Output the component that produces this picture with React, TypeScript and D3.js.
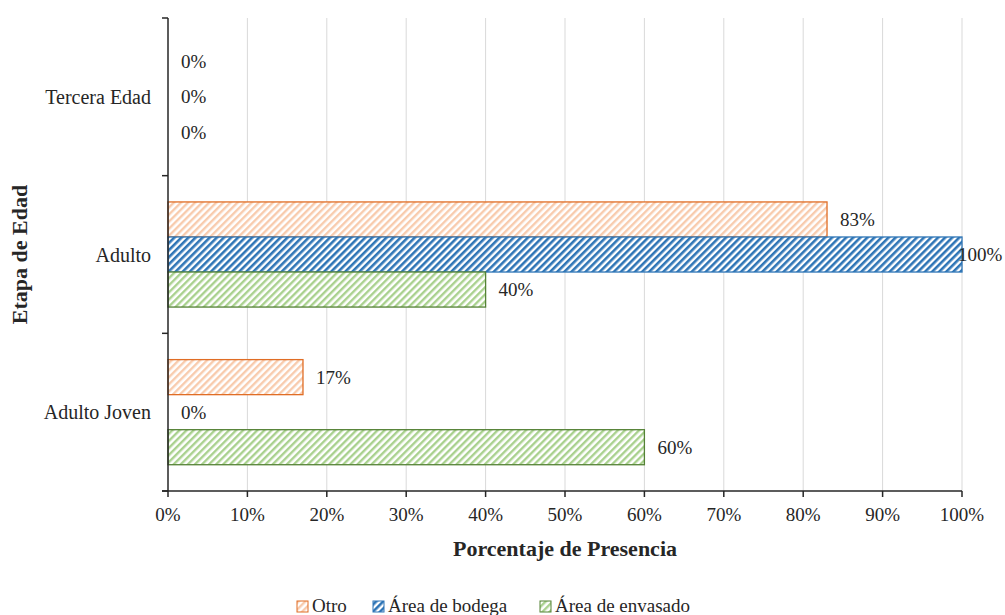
import React from "react";
import * as d3 from "d3";

const categories = ["Tercera Edad", "Adulto", "Adulto Joven"];
const seriesNames = ["Otro", "Área de bodega", "Área de envasado"];
const otro = [0, 83, 17];
const bodega = [0, 100, 0];
const envasado = [0, 40, 60];
const xTicks = [0, 10, 20, 30, 40, 50, 60, 70, 80, 90, 100];

const seriesValues = [otro, bodega, envasado];
const stripe = ["#f8cbad", "#2e75b6", "#a9d18e"];
const borders = ["#e06d25", "#2e75b6", "#548235"];

const W = 1005, H = 615;
const left = 168, right = 962, top = 18, bottom = 491;
const FONT = "Liberation Serif";

export default function App() {
  const x = d3.scaleLinear().domain([0, 100]).range([left, right]);
  const y = d3.scaleBand().domain(categories).range([top, bottom]).paddingInner(0).paddingOuter(0);
  const inner = d3.scaleBand().domain(seriesNames).range([0, y.bandwidth()]).paddingOuter(0.75).paddingInner(0);

  return (
    <svg width={W} height={H} fontFamily={FONT} style={{ position: "absolute", left: 0, top: 0 }}>
      <defs>
        {seriesNames.map((s, i) => (
          <pattern key={s} id={`hatch${i}`} patternUnits="userSpaceOnUse" width={5} height={5} patternTransform="rotate(45)">
            <rect width={5} height={5} fill="#fff" />
            <rect x={0} y={0} width={i === 1 ? 2.6 : 2.4} height={5} fill={stripe[i]} />
          </pattern>
        ))}
      </defs>
      <rect width={W} height={H} fill="#fff" />
      {xTicks.slice(1).map(t => (
        <line key={t} x1={x(t)} x2={x(t)} y1={top} y2={bottom} stroke="#d9d9d9" strokeWidth={1} />
      ))}
      {categories.map((c, ci) =>
        seriesNames.map((s, si) => {
          const v = seriesValues[si][ci];
          const y0 = (y(c) as number) + (inner(s) as number);
          const h = inner.bandwidth();
          const wBar = x(v) - x(0);
          let lx = x(v) + 13;
          if (lx > W - 47) lx = W - 47;
          return (
            <g key={c + s}>
              {v > 0 && (
                <rect x={x(0)} y={y0} width={wBar} height={h} fill={`url(#hatch${si})`} stroke={borders[si]} strokeWidth={1.3} />
              )}
              <text x={lx} y={y0 + h / 2} dy="0.35em" fontFamily={FONT} fontSize={19} fill="#262626">{v}%</text>
            </g>
          );
        })
      )}
      <line x1={left} x2={left} y1={top} y2={bottom} stroke="#262626" strokeWidth={1.5} />
      <line x1={left - 6} x2={right} y1={bottom} y2={bottom} stroke="#262626" strokeWidth={1.5} />
      {[top, ...categories.map(c => (y(c) as number) + y.bandwidth())].map((yy, i) => (
        <line key={i} x1={left - 6} x2={left} y1={yy} y2={yy} stroke="#262626" strokeWidth={1.5} />
      ))}
      {xTicks.map(t => (
        <g key={t}>
          <line x1={x(t)} x2={x(t)} y1={bottom} y2={bottom + 6} stroke="#262626" strokeWidth={1.5} />
          <text x={x(t)} y={bottom + 30} textAnchor="middle" fontFamily={FONT} fontSize={19} fill="#262626">{t}%</text>
        </g>
      ))}
      {categories.map(c => (
        <text key={c} x={left - 17} y={(y(c) as number) + y.bandwidth() / 2} dy="0.35em" textAnchor="end" fontFamily={FONT} fontSize={20} fill="#262626">{c}</text>
      ))}
      <text x={565} y={556} textAnchor="middle" fontFamily={FONT} fontSize={22} fontWeight="bold" fill="#262626">Porcentaje de Presencia</text>
      <text transform={`translate(27, ${(top + bottom) / 2}) rotate(-90)`} textAnchor="middle" fontFamily={FONT} fontSize={22} fontWeight="bold" fill="#262626">Etapa de Edad</text>
      {(() => {
        const starts = [297, 373, 540];
        return seriesNames.map((s, i) => (
          <g key={s}>
            <rect x={starts[i]} y={601} width={11} height={11} fill={`url(#hatch${i})`} stroke={borders[i]} strokeWidth={1} />
            <text x={starts[i] + 15} y={605} dy="0.35em" fontFamily={FONT} fontSize={19} fill="#262626">{s}</text>
          </g>
        ));
      })()}
    </svg>
  );
}
